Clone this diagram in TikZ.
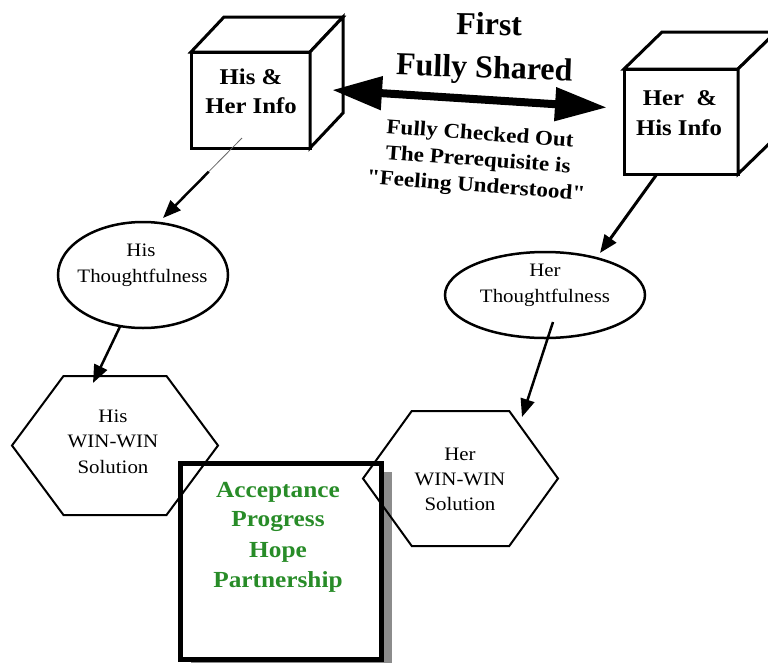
\documentclass[tikz,border=0pt]{standalone}
\usepackage{fontspec}
\setmainfont{Liberation Serif}
\newfontfamily\wf[FakeStretch=1.1]{Liberation Serif}
\usetikzlibrary{arrows.meta,calc,shapes.geometric,shadows}
\definecolor{accgreen}{RGB}{40,140,40}
\definecolor{shadowgray}{RGB}{140,140,140}
\begin{document}
\begin{tikzpicture}[x=1pt,y=-1pt,
  face/.style={draw, line width=3pt, fill=white, inner sep=0pt, outer sep=0pt},
  cubeline/.style={draw, line width=3pt, fill=white, line join=miter},
  oval/.style={ellipse, draw, line width=2.5pt, fill=white, inner sep=0pt, outer sep=0pt},
  hexframe/.style={inner sep=0pt, outer sep=0pt},
  hexline/.style={draw, line width=2pt, line join=miter},
  lbl/.style={inner sep=0pt, anchor=base, font=\wf\fontsize{19}{25}\selectfont},
  cubelbl/.style={inner sep=0pt, anchor=base, font=\wf\bfseries\fontsize{22.5}{28}\selectfont},
  toplbl/.style={inner sep=0pt, anchor=base, font=\bfseries\fontsize{32}{40}\selectfont},
  sublbl/.style={inner sep=0pt, align=center, font=\wf\bfseries\fontsize{21}{26}\selectfont},
  greenlbl/.style={inner sep=0pt, anchor=base, text=accgreen, font=\wf\bfseries\fontsize{23}{30}\selectfont},
  smallhead/.style={-{Triangle[length=18pt,width=14pt]}},
]
\useasboundingbox (0,0) rectangle (768,662);
\fill[white] (0,0) rectangle (768,662);

% green result box
\node[draw, line width=5pt, fill=white, inner sep=0pt, outer sep=0pt,
      minimum width=201pt, minimum height=196pt,
      drop shadow={shadow xshift=10pt, shadow yshift=-9pt, fill=shadowgray, opacity=1}]
      (accept) at (281,561) {};
\node[greenlbl] (g1) at (278,497) {Acceptance};
\node[greenlbl] (g2) at (278,526) {Progress};
\node[greenlbl] (g3) at (278,557) {Hope};
\node[greenlbl] (g4) at (278,587) {Partnership};

% cube: his
\node[face, minimum width=119pt, minimum height=96pt] (hisInfo) at (250.5,100) {};
\draw[cubeline] (hisInfo.north west) -- ++(33,-35) -- ++(119,0) -- (hisInfo.north east) -- cycle;
\draw[cubeline] (hisInfo.north east) -- ++(33,-35) -- ++(0,96) -- (hisInfo.south east) -- cycle;
\node[cubelbl] (hi1) at (251,84) {His \&};
\node[cubelbl] (hi2) at (251,113) {Her Info};

% cube: her
\node[face, minimum width=114pt, minimum height=105pt] (herInfo) at (681,121.5) {};
\draw[cubeline] (herInfo.north west) -- ++(38,-37) -- ++(114,0) -- (herInfo.north east) -- cycle;
\draw[cubeline] (herInfo.north east) -- ++(38,-37) -- ++(0,105) -- (herInfo.south east) -- cycle;
\node[cubelbl] (he1) at (680,105) {Her\ \ \&};
\node[cubelbl] (he2) at (679,135) {His Info};

% double arrow
\draw[line width=8pt, {Triangle[length=50pt,width=32pt]}-{Triangle[length=52pt,width=32pt]}]
  ($(hisInfo.east)+(22,-10)$) -- ($(herInfo.west)+(-17,-14)$);
\node[toplbl, rotate=-1] (t1) at (489,35) {First};
\node[toplbl, rotate=-2] (t2) at (484,78) {Fully Shared};
\node[sublbl, rotate=-4.3] (sub) at (478,161) {Fully Checked Out\\The Prerequisite is\\"Feeling Understood"};

% thoughtfulness ellipses
\node[oval, minimum width=170pt, minimum height=106pt] (hisT) at (143,275) {};
\node[lbl] (ht1) at (141,256) {His};
\node[lbl] (ht2) at (142.5,282) {Thoughtfulness};
\node[oval, minimum width=200pt, minimum height=86pt] (herT) at (545,295) {};
\node[lbl] (rt1) at (545,276) {Her};
\node[lbl] (rt2) at (545,302) {Thoughtfulness};

% hexagons
\node[hexframe, minimum width=206pt, minimum height=139pt] (hisHex) at (115,445.5) {};
\draw[hexline] ($(hisHex.north west)!.25!(hisHex.north east)$) -- ($(hisHex.north west)!.75!(hisHex.north east)$)
  -- (hisHex.east) -- ($(hisHex.south west)!.75!(hisHex.south east)$) -- ($(hisHex.south west)!.25!(hisHex.south east)$)
  -- (hisHex.west) -- cycle;
\node[lbl] (hh1) at (113,422) {His};
\node[lbl] (hh2) at (113,447) {WIN-WIN};
\node[lbl] (hh3) at (113,473) {Solution};

\node[hexframe, minimum width=195pt, minimum height=135pt] (herHex) at (460.5,478.5) {};
\draw[hexline] ($(herHex.north west)!.25!(herHex.north east)$) -- ($(herHex.north west)!.75!(herHex.north east)$)
  -- (herHex.east) -- ($(herHex.south west)!.75!(herHex.south east)$) -- ($(herHex.south west)!.25!(herHex.south east)$)
  -- (herHex.west) -- cycle;
\node[lbl] (rh1) at (460,460) {Her};
\node[lbl] (rh2) at (460,485) {WIN-WIN};
\node[lbl] (rh3) at (460,510) {Solution};

% connectors
\coordinate (aS) at ($(hisInfo.center)+(-8.5,38)$);
\coordinate (aT) at ($(hisT.north)+(20,-4)$);
\coordinate (aM) at ($(aS)!0.42!(aT)$);
\draw[line width=0.8pt, black!60] (aS) -- (aM);
\draw[line width=2.5pt, smallhead] (aM) -- (aT);

\draw[line width=2.5pt, smallhead] (hisT.246) -- ($(hisHex.north)+(-22,7)$);
\draw[line width=3pt, smallhead] ($(herInfo.south)+(-24,0)$) -- ($(herT.north)+(55,1)$);
\draw[line width=2.5pt, smallhead] ($(herT.center)+(8,27)$) -- ($(herHex.north)+(61.5,6)$);
\end{tikzpicture}
\end{document}
